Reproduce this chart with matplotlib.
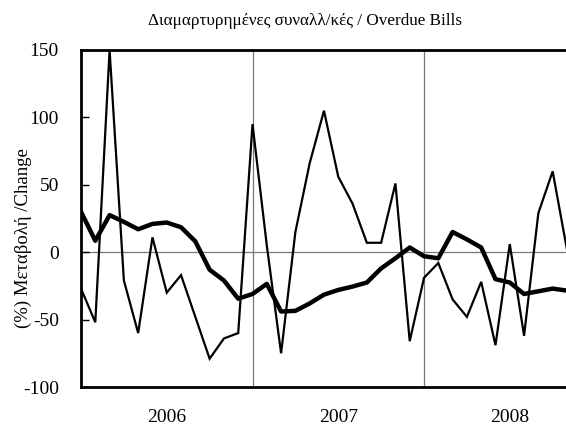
import matplotlib
matplotlib.use("Agg")
import matplotlib.pyplot as plt
import numpy as np

plt.rcParams['font.family'] = ['Liberation Serif', 'DejaVu Serif']

# Monthly series, Jan 2006 onward (index = month number)
years = ['2006', '2007', '2008']
overdue_monthly = [-27, -52, 150, -21, -60, 11, -30, -17, -48, -79, -64, -60,
                   95, 5, -75, 15, 66, 105, 56, 36, 7, 7, 51, -66,
                   -19, -8, -35, -48, -22, -69, 6, -62, 29, 60, 2, 34]
overdue_12m = [30, 8.5, 27.5, 22.5, 17, 21, 22, 18.5, 8, -13, -21, -34.5,
               -31, -23.5, -44, -43.5, -38, -31.5, -28, -25.5, -22.5, -12, -4.5, 3.5,
               -3, -4.5, 15, 9.5, 3.5, -20, -22.5, -31, -29, -27, -28.5, -22]
yticks = [-100, -50, 0, 50, 100, 150]

fig = plt.figure(figsize=(5.66, 4.25), dpi=100)
ax = fig.add_axes([81/566, 1 - 387/425, 1 - 81/566 + 0.01, (387 - 50)/425])

x = np.arange(len(overdue_monthly))
ax.axhline(0, color='#777777', lw=0.9, zorder=1)
for k in range(1, len(years)):
    ax.axvline(12 * k, color='#777777', lw=0.9, zorder=1)

ax.plot(x, overdue_monthly, color='black', lw=1.6, zorder=3, solid_joinstyle='miter')
ax.plot(x, overdue_12m, color='black', lw=3.2, zorder=4)

ax.set_xlim(0, 34.33)
ax.set_ylim(-100, 150)
ax.set_yticks(yticks)
ax.set_yticklabels([str(v) for v in yticks])
ax.set_xticks([12 * i + 6 for i in range(len(years))])
ax.set_xticklabels(years)
ax.tick_params(axis='y', direction='in', length=6, width=1.0, labelsize=14, pad=16)
ax.tick_params(axis='x', length=0, labelsize=14, pad=16)

for s in ['left', 'top', 'bottom']:
    ax.spines[s].set_linewidth(2.0)
ax.spines['right'].set_visible(False)

ax.set_ylabel('(%) Μεταβολή /Change', fontsize=13.5)
ax.yaxis.label.set_va('center')
ax.yaxis.set_label_coords(-0.1175, 0.442)
fig.text(0.538, 0.95, 'Διαμαρτυρημένες συναλλ/κές / Overdue Bills',
         ha='center', va='center', fontsize=12.3)

fig.savefig('out.png', dpi=100)
